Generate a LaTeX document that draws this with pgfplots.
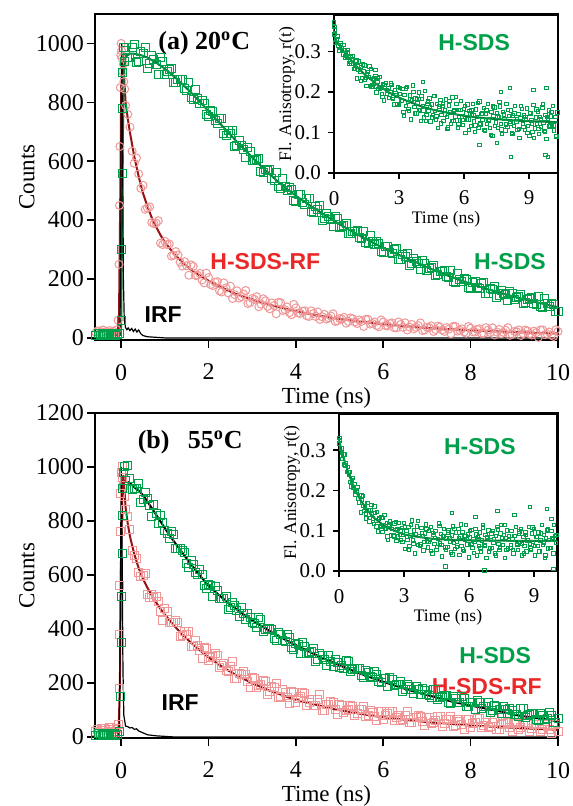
\documentclass[border=0pt]{standalone}
\usepackage{pgfplots}
\pgfplotsset{compat=1.18}
\usepackage{fontspec}
\setmainfont{Liberation Serif}
\newfontfamily\lsans{Liberation Sans}

\definecolor{sqgreen}{RGB}{0,160,75}
\definecolor{fitgreen}{RGB}{0,125,55}
\definecolor{pinkc}{RGB}{240,150,150}
\definecolor{fitred}{RGB}{150,20,20}
\definecolor{labred}{RGB}{235,40,40}

\pgfplotsset{
  base/.style={scale only axis, anchor=south west,
    axis line style={line width=1pt},
    every tick/.style={black, line width=0.8pt},
    tick align=outside, tick pos=left,
    /pgf/number format/assume math mode=true,
    /pgf/number format/1000 sep={}},
  mainax/.style={base, major tick length=4pt,
    tick label style={font=\fontsize{12}{13}\selectfont},
    label style={font=\fontsize{11.5}{13}\selectfont},
    xlabel style={at={(axis description cs:0.5,0)}, anchor=center, yshift=-29pt},
    ylabel style={at={(axis description cs:-0.147,0.5)}, anchor=center},
    xticklabel shift=4.5pt, yticklabel shift=-2pt,
    xmin=-0.6, xmax=10, xtick={0,2,...,10},
    xlabel={Time (ns)}, ylabel={Counts}},
  inax/.style={base, major tick length=3pt,
    tick label style={font=\fontsize{10.5}{12}\selectfont},
    label style={font=\fontsize{8.8}{10}\selectfont},
    xlabel style={at={(axis description cs:0.5,0)}, anchor=center, yshift=-23pt},
    xticklabel shift=2.5pt,
    xmin=0, ymin=0, ymax=0.39, xtick={0,3,6,9}, ytick={0,0.1,0.2,0.3},
    yticklabel style={/pgf/number format/fixed, /pgf/number format/fixed zerofill,
      /pgf/number format/precision=1},
    xlabel={Time (ns)}, ylabel={Fl. Anisotropy, r(t)}},
  bigsq/.style={only marks, mark=square, mark size=2pt, line width=0.5pt},
  bigci/.style={only marks, mark=o, mark size=2pt, line width=0.5pt},
  smallsq/.style={only marks, mark=square, mark size=0.85pt, line width=0.35pt, draw=sqgreen},
}
\newcommand{\sanslab}{\lsans\bfseries\fontsize{11.5}{13}\selectfont}

\begin{document}
\begin{tikzpicture}
\useasboundingbox (0,0) rectangle (286pt,403pt);

% ---------------- (a) 20 C ----------------
\begin{axis}[mainax, at={(47.5pt,233pt)}, width=231.5pt, height=163pt,
  ymin=-7, ymax=1100, ytick={0,200,...,1000}]
% H-SDS-RF, circles
\addplot[bigci, draw=pinkc] coordinates {
(-0.58,18)(-0.54,24)(-0.5,15)(-0.46,21)(-0.42,27)(-0.38,17)(-0.34,22)(-0.3,14)(-0.26,25)(-0.22,19)
(-0.18,23)(-0.14,16)(-0.1,28)(-0.07,60)(-0.05,250)(-0.04,450)(-0.03,650)(-0.02,850)(-0.01,960)
(0.0,1000)(0.01,975)(0.02,950)(0.03,905)(0.05,930)(0.06,870)(0.08,845)
(0.1,789)(0.2,716)(0.3,593)(0.4,557)(0.5,518)(0.6,441)(0.7,392)(0.8,390)(0.9,322)(1.0,328)
(1.1,319)(1.2,281)(1.3,281)(1.4,244)(1.5,245)(1.6,248)(1.7,212)(1.8,219)(1.9,187)(2.0,205)
(2.1,178)(2.2,191)(2.3,156)(2.4,170)(2.5,176)(2.6,147)(2.7,135)(2.8,149)(2.9,117)(3.0,134)
(3.1,140)(3.2,115)(3.3,126)(3.4,99)(3.5,110)(3.6,121)(3.7,93)(3.8,105)(3.9,79)(4.0,102)
(4.1,83)(4.2,92)(4.3,73)(4.4,83)(4.5,88)(4.6,72)(4.7,64)(4.8,74)(4.9,56)(5.0,66)
(5.1,70)(5.2,56)(5.3,65)(5.4,49)(5.5,56)(5.6,63)(5.7,47)(5.8,54)(5.9,38)(6.0,54)
(6.1,41)(6.2,51)(6.3,34)(6.4,46)(6.5,51)(6.6,37)(6.7,31)(6.8,42)(6.9,25)(7.0,36)
(7.1,41)(7.2,28)(7.3,37)(7.4,22)(7.5,30)(7.6,39)(7.7,23)(7.8,31)(7.9,16)(8.0,33)
(8.1,20)(8.2,31)(8.3,15)(8.4,27)(8.5,34)(8.6,20)(8.7,14)(8.8,26)(8.9,9)(9.0,22)
(9.1,27)(9.2,15)(9.3,24)(9.4,10)(9.5,18)(9.6,27)(9.7,11)(9.8,20)(9.9,5)(10.0,22)
(0.15,759)(0.25,634)(0.35,611)(0.45,508)(0.55,437)(0.65,445)(0.75,388)(0.85,398)(0.95,317)(1.05,317)
(1.15,278)(1.25,293)(1.35,257)(1.45,259)(1.55,213)(1.65,243)(1.75,213)(1.85,197)(1.95,220)(2.05,181)
(2.15,189)(2.25,160)(2.35,187)(2.45,153)(2.55,134)(2.65,160)(2.75,140)(2.85,161)(2.95,120)(3.05,131)
(3.15,106)(3.25,133)(3.35,107)(3.45,119)(3.55,82)(3.65,120)(3.75,96)(3.85,86)(3.95,114)(4.05,85)
(4.15,91)(4.25,75)(4.35,92)(4.45,73)(4.55,63)(4.65,80)(4.75,68)(4.85,82)(4.95,58)(5.05,64)
(5.15,50)(5.25,68)(5.35,54)(5.45,61)(5.55,39)(5.65,63)(5.75,49)(5.85,42)(5.95,61)(6.05,42)
(6.15,49)(6.25,35)(6.35,54)(6.45,36)(6.55,27)(6.65,46)(6.75,36)(6.85,51)(6.95,27)(7.05,35)
(7.15,22)(7.25,40)(7.35,27)(7.45,35)(7.55,14)(7.65,39)(7.75,26)(7.85,20)(7.95,39)(8.05,21)
(8.15,29)(8.25,15)(8.35,35)(8.45,18)(8.55,10)(8.65,29)(8.75,19)(8.85,35)(8.95,12)(9.05,21)
(9.15,8)(9.25,27)(9.35,14)(9.45,23)(9.55,2)(9.65,27)(9.75,14)(9.85,9)(9.95,28)
};
% H-SDS, squares
\addplot[bigsq, draw=sqgreen] coordinates {
(-0.58,9)(-0.53,14)(-0.48,7)(-0.43,12)(-0.38,16)(-0.33,8)(-0.28,13)(-0.23,10)(-0.18,15)(-0.13,9)
(-0.08,12)(-0.03,14)(0.0,60)(0.01,300)(0.02,560)(0.03,780)(0.04,900)(0.05,985)(0.07,940)
(0.1,976)(0.2,951)(0.3,998)(0.4,937)(0.5,966)(0.6,916)(0.7,960)(0.8,930)(0.9,953)(1.0,896)
(1.1,910)(1.2,869)(1.3,878)(1.4,878)(1.5,841)(1.6,818)(1.7,842)(1.8,797)(1.9,796)(2.0,751)
(2.1,768)(2.2,729)(2.3,744)(2.4,689)(2.5,695)(2.6,650)(2.7,669)(2.8,640)(2.9,647)(3.0,601)
(3.1,606)(3.2,564)(3.3,572)(3.4,572)(3.5,535)(3.6,514)(3.7,540)(3.8,500)(3.9,504)(4.0,464)
(4.1,486)(4.2,453)(4.3,474)(4.4,425)(4.5,437)(4.6,399)(4.7,424)(4.8,401)(4.9,414)(5.0,374)
(5.1,383)(5.2,353)(5.3,362)(5.4,365)(5.5,338)(5.6,324)(5.7,347)(5.8,317)(5.9,321)(6.0,291)
(6.1,310)(6.2,285)(6.3,303)(6.4,265)(6.5,276)(6.6,247)(6.7,269)(6.8,252)(6.9,263)(7.0,230)
(7.1,240)(7.2,212)(7.3,224)(7.4,229)(7.5,204)(7.6,193)(7.7,218)(7.8,190)(7.9,197)(8.0,169)
(8.1,190)(8.2,167)(8.3,187)(8.4,151)(8.5,164)(8.6,137)(8.7,161)(8.8,146)(8.9,159)(9.0,130)
(9.1,142)(9.2,116)(9.3,130)(9.4,138)(9.5,115)(9.6,106)(9.7,133)(9.8,107)(9.9,115)(10.0,89)
(0.15,951)(0.25,987)(0.35,936)(0.45,972)(0.55,987)(0.65,932)(0.75,944)(0.85,896)(0.95,940)(1.05,906)
(1.15,914)(1.25,869)(1.35,876)(1.45,847)(1.55,866)(1.65,810)(1.75,814)(1.85,805)(1.95,757)(2.05,771)
(2.15,740)(2.25,745)(2.35,695)(2.45,706)(2.55,703)(2.65,655)(2.75,654)(2.85,613)(2.95,634)(3.05,604)
(3.15,609)(3.25,563)(3.35,570)(3.45,541)(3.55,561)(3.65,507)(3.75,515)(3.85,511)(3.95,468)(4.05,487)
(4.15,461)(4.25,472)(4.35,428)(4.45,445)(4.55,449)(4.65,407)(4.75,412)(4.85,377)(4.95,404)(5.05,380)
(5.15,387)(5.25,354)(5.35,362)(5.45,342)(5.55,360)(5.65,319)(5.75,328)(5.85,326)(5.95,293)(6.05,310)
(6.15,291)(6.25,301)(6.35,267)(6.45,282)(6.55,286)(6.65,254)(6.75,259)(6.85,233)(6.95,254)(7.05,235)
(7.15,245)(7.25,214)(7.35,225)(7.45,207)(7.55,228)(7.65,189)(7.75,200)(7.85,201)(7.95,170)(8.05,189)
(8.15,172)(8.25,184)(8.35,152)(8.45,169)(8.55,175)(8.65,145)(8.75,152)(8.85,128)(8.95,152)(9.05,136)
(9.15,148)(9.25,119)(9.35,133)(9.45,117)(9.55,140)(9.65,103)(9.75,116)(9.85,118)(9.95,89)
};
% fits
\addplot[fitred, line width=1pt] coordinates {
(-0.6,18)(-0.08,18)(-0.05,80)(-0.02,500)(0.0,850)(0.03,930)(0.06,900)(0.1,801)(0.15,745)(0.2,698)
(0.3,615)(0.4,548)(0.5,491)(0.6,447)(0.7,408)(0.8,377)(0.9,349)(1.0,325)(1.2,287)(1.4,257)
(1.6,232)(1.8,212)(2.0,194)(2.2,179)(2.4,164)(2.6,151)(2.8,140)(3.0,131)(3.2,121)(3.4,112)
(3.6,105)(3.8,98)(4.0,91)(4.3,82)(4.6,74)(5.0,64)(5.5,55)(6.0,47)(6.5,40)(7.0,34)
(7.5,30)(8.0,26)(8.5,23)(9.0,20)(9.5,17)(10,15)
};
\addplot[fitgreen, line width=1pt] coordinates {
(-0.6,10)(-0.02,10)(0.0,40)(0.03,600)(0.06,900)(0.1,955)(0.2,965)(0.3,965)(0.4,962)(0.5,958)
(0.6,952)(0.8,935)(1.0,914)(1.2,889)(1.4,862)(1.6,833)(1.8,802)(2.0,770)(2.2,738)(2.4,706)
(2.6,674)(2.8,643)(3.0,613)(3.2,584)(3.4,556)(3.6,529)(3.8,505)(4.0,483)(4.2,462)(4.4,442)
(4.6,423)(4.8,404)(5.0,386)(5.2,369)(5.4,352)(5.6,336)(5.8,321)(6.0,306)(6.2,292)(6.4,279)
(6.6,266)(6.8,254)(7.0,240)(7.2,228)(7.4,216)(7.6,205)(7.8,194)(8.0,184)(8.2,174)(8.4,165)
(8.6,156)(8.8,148)(9.0,140)(9.2,132)(9.4,125)(9.6,118)(9.8,111)(10,104)
};
% IRF
\addplot[black, line width=0.6pt] coordinates {
(-0.6,0)(-0.05,0)(-0.03,20)(-0.01,300)(0.0,800)(0.01,1000)(0.03,700)(0.05,200)(0.07,60)(0.1,35)
(0.13,28)(0.16,34)(0.2,25)(0.24,32)(0.28,22)(0.32,30)(0.36,20)(0.4,27)(0.45,14)(0.5,8)
(0.6,4)(0.8,2)(1.0,0)(10,0)
};
\node[font=\bfseries\fontsize{13}{15}\selectfont] at (axis cs:1.9,1000) {(a) 20\textsuperscript{o}C};
\node[font=\sanslab, text=labred] at (axis cs:3.3,258) {H-SDS-RF};
\node[font=\sanslab, text=sqgreen] at (axis cs:8.9,258) {H-SDS};
\node[font=\sanslab] at (axis cs:0.96,78) {IRF};
\end{axis}

% inset (a)
\begin{axis}[inax, at={(167pt,316.5pt)}, width=112pt, height=79pt, xmax=10.33,
  ylabel style={at={(axis description cs:-0.21,0.5)}, anchor=center}]
\addplot[smallsq] coordinates {
(0.0,0.372)(0.02,0.360)(0.04,0.355)
(0.00,0.341)(0.05,0.322)(0.10,0.330)(0.15,0.337)(0.20,0.314)(0.25,0.301)(0.30,0.320)(0.35,0.309)(0.40,0.293)(0.45,0.317)
(0.50,0.289)(0.55,0.297)(0.60,0.288)(0.65,0.298)(0.70,0.271)(0.75,0.286)(0.80,0.271)(0.85,0.289)(0.90,0.270)(0.95,0.258)
(1.00,0.276)(1.05,0.234)(1.10,0.265)(1.15,0.276)(1.20,0.249)(1.25,0.262)(1.30,0.235)(1.35,0.251)(1.40,0.266)(1.45,0.235)
(1.50,0.215)(1.55,0.250)(1.60,0.237)(1.65,0.215)(1.70,0.257)(1.75,0.218)(1.80,0.232)(1.85,0.221)(1.90,0.239)(1.95,0.199)
(2.00,0.226)(2.05,0.207)(2.10,0.237)(2.15,0.211)(2.20,0.196)(2.25,0.220)(2.30,0.179)(2.35,0.210)(2.40,0.223)(2.45,0.196)
(2.50,0.210)(2.55,0.185)(2.60,0.201)(2.65,0.218)(2.70,0.187)(2.75,0.169)(2.80,0.205)(2.85,0.192)(2.90,0.171)(2.95,0.213)
(3.00,0.169)(3.05,0.195)(3.10,0.179)(3.15,0.208)(3.20,0.151)(3.25,0.193)(3.30,0.166)(3.35,0.213)(3.40,0.175)(3.45,0.153)
(3.50,0.192)(3.55,0.132)(3.60,0.180)(3.65,0.201)(3.70,0.163)(3.75,0.184)(3.80,0.147)(3.85,0.174)(3.90,0.199)(3.95,0.155)
(4.00,0.129)(4.05,0.183)(4.10,0.165)(4.15,0.137)(4.20,0.202)(4.25,0.144)(4.30,0.170)(4.35,0.154)(4.40,0.184)(4.45,0.127)
(4.50,0.169)(4.55,0.143)(4.60,0.191)(4.65,0.153)(4.70,0.132)(4.75,0.171)(4.80,0.111)(4.85,0.160)(4.90,0.181)(4.95,0.144)
(5.00,0.165)(5.05,0.129)(5.10,0.156)(5.15,0.182)(5.20,0.138)(5.25,0.113)(5.30,0.167)(5.35,0.150)(5.40,0.121)(5.45,0.187)
(5.50,0.129)(5.55,0.156)(5.60,0.140)(5.65,0.170)(5.70,0.113)(5.75,0.156)(5.80,0.130)(5.85,0.178)(5.90,0.140)(5.95,0.119)
(6.00,0.158)(6.05,0.099)(6.10,0.147)(6.15,0.169)(6.20,0.132)(6.25,0.154)(6.30,0.117)(6.35,0.145)(6.40,0.171)(6.45,0.127)
(6.50,0.102)(6.55,0.157)(6.60,0.139)(6.65,0.111)(6.70,0.177)(6.75,0.120)(6.80,0.146)(6.85,0.131)(6.90,0.161)(6.95,0.104)
(7.00,0.147)(7.05,0.122)(7.10,0.170)(7.15,0.132)(7.20,0.111)(7.25,0.151)(7.30,0.092)(7.35,0.141)(7.40,0.162)(7.45,0.125)
(7.50,0.147)(7.55,0.111)(7.60,0.139)(7.65,0.164)(7.70,0.121)(7.75,0.096)(7.80,0.151)(7.85,0.134)(7.90,0.105)(7.95,0.171)
(8.00,0.114)(8.05,0.141)(8.10,0.126)(8.15,0.155)(8.20,0.099)(8.25,0.142)(8.30,0.117)(8.35,0.165)(8.40,0.127)(8.45,0.106)
(8.50,0.146)(8.55,0.087)(8.60,0.136)(8.65,0.158)(8.70,0.121)(8.75,0.142)(8.80,0.106)(8.85,0.134)(8.90,0.160)(8.95,0.117)
(9.00,0.092)(9.05,0.147)(9.10,0.130)(9.15,0.102)(9.20,0.168)(9.25,0.110)(9.30,0.137)(9.35,0.122)(9.40,0.152)(9.45,0.096)
(9.50,0.139)(9.55,0.114)(9.60,0.162)(9.65,0.125)(9.70,0.104)(9.75,0.143)(9.80,0.084)(9.85,0.133)(9.90,0.155)(9.95,0.118)
(10.00,0.140)(10.05,0.120)(10.10,0.165)(10.15,0.105)(10.20,0.138)(10.25,0.090)(10.30,0.150)
(0.025,0.343)(0.125,0.321)(0.225,0.303)(0.325,0.317)(0.425,0.304)(0.525,0.285)(0.625,0.304)(0.725,0.276)(0.825,0.280)(0.925,0.257)
(1.025,0.278)(1.125,0.256)(1.225,0.228)(1.325,0.268)(1.425,0.231)(1.525,0.243)(1.625,0.263)(1.725,0.214)(1.825,0.234)(1.925,0.214)
(2.025,0.234)(2.125,0.208)(2.225,0.188)(2.325,0.218)(2.425,0.205)(2.525,0.186)(2.625,0.221)(2.725,0.183)(2.825,0.197)(2.925,0.169)
(3.025,0.210)(3.125,0.178)(3.225,0.141)(3.325,0.209)(3.425,0.159)(3.525,0.182)(3.625,0.216)(3.725,0.147)(3.825,0.182)(3.925,0.156)
(4.025,0.190)(4.125,0.155)(4.225,0.128)(4.325,0.177)(4.425,0.162)(4.525,0.137)(4.625,0.191)(4.725,0.140)(4.825,0.164)(4.925,0.123)
(5.025,0.171)(5.125,0.145)(5.225,0.109)(5.325,0.178)(5.425,0.129)(5.525,0.153)(5.625,0.188)(5.725,0.120)(5.825,0.156)(5.925,0.131)
(6.025,0.166)(6.125,0.132)(6.225,0.106)(6.325,0.156)(6.425,0.143)(6.525,0.118)(6.625,0.173)(6.725,0.123)(6.825,0.147)(6.925,0.107)
(7.025,0.155)(7.125,0.130)(7.225,0.094)(7.325,0.164)(7.425,0.116)(7.525,0.140)(7.625,0.175)(7.725,0.108)(7.825,0.145)(7.925,0.120)
(8.025,0.156)(8.125,0.123)(8.225,0.096)(8.325,0.147)(8.425,0.134)(8.525,0.109)(8.625,0.165)(8.725,0.114)(8.825,0.139)(8.925,0.099)
(9.025,0.148)(9.125,0.123)(9.225,0.087)(9.325,0.157)(9.425,0.109)(9.525,0.134)(9.625,0.169)(9.725,0.102)(9.825,0.139)(9.925,0.115)
(10.025,0.151)(10.125,0.118)(10.225,0.092)
(8.1,0.210)(9.2,0.205)(9.8,0.210)(7.7,0.200)(9.85,0.040)(9.75,0.045)(8.15,0.040)(6.7,0.070)(7.5,0.075)(4.1,0.225)(1.9,0.255)
};
\addplot[fitgreen, line width=1pt] coordinates {
(0,0.335)(0.5,0.296)(1,0.265)(1.5,0.239)(2,0.218)(2.5,0.200)(3,0.186)(3.5,0.175)(4,0.165)(4.5,0.157)
(5,0.151)(5.5,0.146)(6,0.141)(6.5,0.138)(7,0.135)(7.5,0.133)(8,0.131)(8.5,0.129)(9,0.128)(9.5,0.127)
(10,0.126)(10.33,0.125)
};
\node[font=\sanslab, text=sqgreen] at (axis cs:6.46,0.322) {H-SDS};
\end{axis}

% ---------------- (b) 55 C ----------------
\begin{axis}[mainax, at={(47.5pt,34pt)}, width=231.5pt, height=162.5pt,
  ymin=-4, ymax=1200, ytick={0,200,...,1200}]
% H-SDS-RF, squares
\addplot[bigsq, draw=pinkc] coordinates {
(-0.58,20)(-0.54,28)(-0.5,16)(-0.46,33)(-0.42,22)(-0.38,30)(-0.34,18)(-0.3,26)(-0.26,35)(-0.22,21)
(-0.18,29)(-0.14,17)(-0.1,31)(-0.07,45)(-0.05,180)(-0.04,380)(-0.03,560)(-0.02,760)(-0.01,900)
(0.0,980)(0.02,1000)(0.04,960)(0.06,930)(0.08,890)
(0.1,844)(0.2,770)(0.3,671)(0.4,609)(0.5,598)(0.6,526)(0.7,528)(0.8,519)(0.9,465)(1.0,474)
(1.1,424)(1.2,423)(1.3,425)(1.4,375)(1.5,380)(1.6,336)(1.7,356)(1.8,319)(1.9,331)(2.0,283)
(2.1,299)(2.2,303)(2.3,264)(2.4,245)(2.5,261)(2.6,217)(2.7,235)(2.8,241)(2.9,207)(3.0,220)
(3.1,183)(3.2,194)(3.3,207)(3.4,167)(3.5,182)(3.6,147)(3.7,176)(3.8,146)(3.9,167)(4.0,126)
(4.1,149)(4.2,161)(4.3,128)(4.4,115)(4.5,137)(4.6,99)(4.7,121)(4.8,132)(4.9,102)(5.0,120)
(5.1,91)(5.2,102)(5.3,114)(5.4,87)(5.5,100)(5.6,75)(5.7,99)(5.8,77)(5.9,95)(6.0,66)
(6.1,85)(6.2,95)(6.3,71)(6.4,62)(6.5,80)(6.6,52)(6.7,71)(6.8,80)(6.9,58)(7.0,73)
(7.1,48)(7.2,61)(7.3,75)(7.4,49)(7.5,63)(7.6,39)(7.7,65)(7.8,45)(7.9,63)(8.0,35)
(8.1,55)(8.2,67)(8.3,43)(8.4,35)(8.5,54)(8.6,27)(8.7,47)(8.8,57)(8.9,36)(9.0,52)
(9.1,28)(9.2,41)(9.3,55)(9.4,30)(9.5,45)(9.6,21)(9.7,47)(9.8,27)(9.9,46)(10.0,19)
(0.15,816)(0.25,689)(0.35,662)(0.45,593)(0.55,607)(0.65,515)(0.75,517)(0.85,503)(0.95,432)(1.05,463)
(1.15,424)(1.25,433)(1.35,371)(1.45,389)(1.55,391)(1.65,336)(1.75,340)(1.85,292)(1.95,326)(2.05,294)
(2.15,309)(2.25,257)(2.35,273)(2.45,244)(2.55,278)(2.65,215)(2.75,232)(2.85,233)(2.95,184)(3.05,216)
(3.15,189)(3.25,210)(3.35,158)(3.45,186)(3.55,198)(3.65,151)(3.75,163)(3.85,124)(3.95,166)(4.05,141)
(4.15,163)(4.25,118)(4.35,140)(4.45,117)(4.55,157)(4.65,99)(4.75,121)(4.85,126)(4.95,82)(5.05,115)
(5.15,97)(5.25,115)(5.35,78)(5.45,103)(5.55,113)(5.65,79)(5.75,90)(5.85,61)(5.95,95)(6.05,78)
(6.15,96)(6.25,62)(6.35,81)(6.45,64)(6.55,96)(6.65,53)(6.75,71)(6.85,76)(6.95,43)(7.05,71)
(7.15,55)(7.25,75)(7.35,40)(7.45,65)(7.55,77)(7.65,44)(7.75,57)(7.85,29)(7.95,64)(8.05,48)
(8.15,67)(8.25,34)(8.35,54)(8.45,38)(8.55,70)(8.65,29)(8.75,48)(8.85,54)(8.95,21)(9.05,51)
(9.15,35)(9.25,55)(9.35,20)(9.45,47)(9.55,59)(9.65,26)(9.75,39)(9.85,12)(9.95,47)
};
% H-SDS, squares
\addplot[bigsq, draw=sqgreen] coordinates {
(-0.58,6)(-0.53,11)(-0.48,4)(-0.43,9)(-0.38,13)(-0.33,5)(-0.28,10)(-0.23,7)(-0.18,12)(-0.13,6)
(-0.08,9)(-0.04,20)(-0.02,150)(0.0,350)(0.01,520)(0.02,680)(0.03,820)(0.04,920)(0.06,980)(0.08,1000)
(0.1,950)(0.15,1005)(0.2,956)(0.3,920)(0.4,940)(0.5,878)(0.6,884)(0.7,818)(0.8,826)(0.9,822)(1.0,766)
(1.1,734)(1.2,750)(1.3,699)(1.4,692)(1.5,641)(1.6,653)(1.7,609)(1.8,620)(1.9,562)(2.0,565)
(2.1,521)(2.2,542)(2.3,514)(2.4,522)(2.5,478)(2.6,486)(2.7,446)(2.8,456)(2.9,459)(3.0,425)
(3.1,407)(3.2,436)(3.3,397)(3.4,402)(3.5,364)(3.6,388)(3.7,356)(3.8,378)(3.9,331)(4.0,345)
(4.1,308)(4.2,335)(4.3,313)(4.4,327)(4.5,288)(4.6,301)(4.7,266)(4.8,281)(4.9,288)(5.0,258)
(5.1,254)(5.2,279)(5.3,249)(5.4,255)(5.5,226)(5.6,246)(5.7,222)(5.8,241)(5.9,204)(6.0,216)
(6.1,188)(6.2,211)(6.3,194)(6.4,206)(6.5,176)(6.6,187)(6.7,161)(6.8,174)(6.9,181)(7.0,157)
(7.1,147)(7.2,174)(7.3,146)(7.4,154)(7.5,127)(7.6,149)(7.7,128)(7.8,149)(7.9,114)(8.0,128)
(8.1,102)(8.2,127)(8.3,112)(8.4,126)(8.5,98)(8.6,111)(8.7,86)(8.8,100)(8.9,107)(9.0,84)
(9.1,76)(9.2,104)(9.3,79)(9.4,88)(9.5,63)(9.6,87)(9.7,66)(9.8,89)(9.9,54)(10.0,70)
(0.25,916)(0.35,922)(0.45,870)(0.55,904)(0.65,857)(0.75,862)(0.85,789)(0.95,795)(1.05,753)
(1.15,762)(1.25,699)(1.35,697)(1.45,682)(1.55,628)(1.65,637)(1.75,602)(1.85,603)(1.95,550)(2.05,560)
(2.15,559)(2.25,513)(2.35,513)(2.45,473)(2.55,497)(2.65,470)(2.75,478)(2.85,434)(2.95,444)(3.05,419)
(3.15,442)(3.25,391)(3.35,401)(3.45,398)(3.55,357)(3.65,378)(3.75,354)(3.85,367)(3.95,325)(4.05,344)
(4.15,349)(4.25,309)(4.35,315)(4.45,281)(4.55,309)(4.65,287)(4.75,300)(4.85,261)(4.95,275)(5.05,263)
(5.15,283)(5.25,243)(5.35,253)(5.45,253)(5.55,221)(5.65,239)(5.75,221)(5.85,232)(5.95,200)(6.05,215)
(6.15,221)(6.25,190)(6.35,195)(6.45,170)(6.55,193)(6.65,177)(6.75,188)(6.85,159)(6.95,171)(7.05,155)
(7.15,177)(7.25,139)(7.35,151)(7.45,153)(7.55,123)(7.65,143)(7.75,128)(7.85,141)(7.95,111)(8.05,128)
(8.15,136)(8.25,107)(8.35,114)(8.45,91)(8.55,116)(8.65,101)(8.75,114)(8.85,85)(8.95,98)(9.05,83)
(9.15,106)(9.25,71)(9.35,84)(9.45,88)(9.55,60)(9.65,81)(9.75,67)(9.85,81)(9.95,52)
};
% fits
\addplot[fitred, line width=1pt] coordinates {
(-0.6,15)(-0.06,15)(-0.03,200)(0.0,700)(0.03,930)(0.05,970)(0.08,900)(0.1,850)(0.15,790)(0.2,743)
(0.3,677)(0.4,625)(0.5,585)(0.6,553)(0.7,524)(0.8,498)(0.9,474)(1.0,453)(1.2,414)(1.4,379)
(1.6,349)(1.8,321)(2.0,295)(2.2,272)(2.4,251)(2.6,232)(2.8,215)(3.0,199)(3.2,185)(3.4,171)
(3.6,160)(3.8,148)(4.0,138)(4.3,125)(4.6,114)(5.0,99)(5.4,88)(5.8,77)(6.2,69)(6.6,62)
(7.0,55)(7.5,49)(8.0,42)(8.5,38)(9.0,34)(9.5,30)(10,26)
};
\addplot[black, line width=1pt] coordinates {
(0.15,944)(0.2,940)(0.3,925)(0.4,912)(0.5,896)(0.6,872)(0.7,848)(0.8,823)(0.9,798)(1.0,773)
(1.2,726)(1.4,682)(1.6,639)(1.8,598)(2.0,560)(2.2,531)(2.4,503)(2.6,478)(2.8,454)(3.0,432)
(3.2,412)(3.4,392)(3.6,374)(3.8,356)(4.0,340)(4.2,324)(4.4,308)(4.6,293)(4.8,279)(5.0,265)
(5.2,252)(5.4,239)(5.6,227)(5.8,215)(6.0,204)(6.2,194)(6.4,183)(6.6,173)(6.8,164)(7.0,155)
(7.2,147)(7.4,138)(7.6,130)(7.8,123)(8.0,116)(8.2,110)(8.4,103)(8.6,97)(8.8,90)(9.0,82)
(9.2,77)(9.4,72)(9.6,68)(9.8,63)(10,58)
};
% IRF
\addplot[black, line width=0.6pt] coordinates {
(-0.6,0)(-0.06,0)(-0.04,30)(-0.02,500)(0.0,1000)(0.02,700)(0.04,250)(0.06,80)(0.1,40)(0.15,38)
(0.2,33)(0.25,35)(0.3,28)(0.35,30)(0.4,22)(0.5,15)(0.6,8)(0.8,4)(1.0,2)(1.2,0)(10,0)
};
\node[font=\bfseries\fontsize{13}{15}\selectfont] at (axis cs:1.58,1093) {(b)\hspace{0.7em}55\textsuperscript{o}C};
\node[font=\sanslab, text=sqgreen, anchor=east] at (axis cs:9.54,300) {H-SDS};
\node[font=\sanslab, text=labred, anchor=east] at (axis cs:9.79,185) {H-SDS-RF};
\node[font=\sanslab] at (axis cs:1.35,126) {IRF};
\end{axis}

% inset (b)
\begin{axis}[inax, at={(169.5pt,117.5pt)}, width=109pt, height=78.5pt, xmax=10.06,
  ylabel style={at={(axis description cs:-0.216,0.5)}, anchor=center}]
\addplot[smallsq] coordinates {
(0.00,0.317)(0.05,0.325)(0.10,0.305)(0.15,0.279)(0.20,0.290)(0.25,0.290)(0.30,0.262)(0.35,0.247)(0.40,0.258)(0.45,0.239)
(0.50,0.247)(0.55,0.210)(0.60,0.225)(0.65,0.208)(0.70,0.217)(0.75,0.190)(0.80,0.197)(0.85,0.209)(0.90,0.180)(0.95,0.188)
(1.00,0.146)(1.05,0.177)(1.10,0.186)(1.15,0.149)(1.20,0.161)(1.25,0.143)(1.30,0.170)(1.35,0.151)(1.40,0.123)(1.45,0.151)
(1.50,0.164)(1.55,0.131)(1.60,0.117)(1.65,0.145)(1.70,0.126)(1.75,0.147)(1.80,0.098)(1.85,0.129)(1.90,0.110)(1.95,0.133)
(2.00,0.097)(2.05,0.115)(2.10,0.140)(2.15,0.104)(2.20,0.120)(2.25,0.077)(2.30,0.112)(2.35,0.123)(2.40,0.089)(2.45,0.104)
(2.50,0.089)(2.55,0.118)(2.60,0.102)(2.65,0.075)(2.70,0.105)(2.75,0.120)(2.80,0.090)(2.85,0.078)(2.90,0.107)(2.95,0.090)
(3.00,0.120)(3.05,0.055)(3.10,0.100)(3.15,0.077)(3.20,0.110)(3.25,0.062)(3.30,0.089)(3.35,0.126)(3.40,0.076)(3.45,0.101)
(3.50,0.044)(3.55,0.093)(3.60,0.111)(3.65,0.065)(3.70,0.087)(3.75,0.066)(3.80,0.107)(3.85,0.087)(3.90,0.051)(3.95,0.094)
(4.00,0.116)(4.05,0.074)(4.10,0.059)(4.15,0.100)(4.20,0.078)(4.25,0.109)(4.30,0.044)(4.35,0.090)(4.40,0.067)(4.45,0.100)
(4.50,0.053)(4.55,0.080)(4.60,0.118)(4.65,0.069)(4.70,0.093)(4.75,0.036)(4.80,0.086)(4.85,0.104)(4.90,0.059)(4.95,0.081)
(5.00,0.060)(5.05,0.101)(5.10,0.081)(5.15,0.046)(5.20,0.089)(5.25,0.111)(5.30,0.070)(5.35,0.055)(5.40,0.096)(5.45,0.074)
(5.50,0.105)(5.55,0.040)(5.60,0.086)(5.65,0.063)(5.70,0.097)(5.75,0.050)(5.80,0.077)(5.85,0.115)(5.90,0.066)(5.95,0.091)
(6.00,0.034)(6.05,0.084)(6.10,0.102)(6.15,0.057)(6.20,0.079)(6.25,0.072)(6.30,0.104)(6.35,0.039)(6.40,0.085)(6.45,0.062)
(6.50,0.096)(6.55,0.049)(6.60,0.076)(6.65,0.114)(6.70,0.065)(6.75,0.090)(6.80,0.033)(6.85,0.083)(6.90,0.101)(6.95,0.056)
(7.00,0.078)(7.05,0.058)(7.10,0.099)(7.15,0.079)(7.20,0.044)(7.25,0.087)(7.30,0.109)(7.35,0.068)(7.40,0.053)(7.45,0.094)
(7.50,0.114)(7.55,0.065)(7.60,0.090)(7.65,0.033)(7.70,0.083)(7.75,0.101)(7.80,0.056)(7.85,0.078)(7.90,0.058)(7.95,0.099)
(8.00,0.079)(8.05,0.044)(8.10,0.087)(8.15,0.109)(8.20,0.068)(8.25,0.053)(8.30,0.094)(8.35,0.072)(8.40,0.104)(8.45,0.039)
(8.50,0.085)(8.55,0.062)(8.60,0.096)(8.65,0.049)(8.70,0.076)(8.75,0.109)(8.80,0.068)(8.85,0.053)(8.90,0.094)(8.95,0.072)
(9.00,0.104)(9.05,0.039)(9.10,0.085)(9.15,0.062)(9.20,0.096)(9.25,0.049)(9.30,0.076)(9.35,0.114)(9.40,0.065)(9.45,0.090)
(9.50,0.033)(9.55,0.083)(9.60,0.101)(9.65,0.056)(9.70,0.078)(9.75,0.058)(9.80,0.099)(9.85,0.079)(9.90,0.044)(9.95,0.087)
(10.00,0.070)(10.03,0.090)
(0.025,0.330)(0.125,0.294)(0.225,0.265)(0.325,0.268)(0.425,0.247)(0.525,0.222)(0.625,0.232)(0.725,0.199)(0.825,0.199)(0.925,0.171)
(1.025,0.188)(1.125,0.162)(1.225,0.131)(1.325,0.170)(1.425,0.132)(1.525,0.143)(1.625,0.161)(1.725,0.111)(1.825,0.132)(1.925,0.112)
(2.025,0.132)(2.125,0.105)(2.225,0.086)(2.325,0.116)(2.425,0.105)(2.525,0.086)(2.625,0.122)(2.725,0.086)(2.825,0.101)(2.925,0.073)
(3.025,0.110)(3.125,0.086)(3.225,0.053)(3.325,0.115)(3.425,0.069)(3.525,0.093)(3.625,0.125)(3.725,0.062)(3.825,0.095)(3.925,0.072)
(4.025,0.105)(4.125,0.073)(4.225,0.050)(4.325,0.095)(4.425,0.083)(4.525,0.060)(4.625,0.112)(4.725,0.065)(4.825,0.088)(4.925,0.052)
(5.025,0.096)(5.125,0.073)(5.225,0.041)(5.325,0.105)(5.425,0.060)(5.525,0.083)(5.625,0.116)(5.725,0.054)(5.825,0.088)(5.925,0.066)
(6.025,0.099)(6.125,0.068)(6.225,0.045)(6.325,0.091)(6.425,0.079)(6.525,0.056)(6.625,0.108)(6.725,0.062)(6.825,0.085)(6.925,0.049)
(7.025,0.094)(7.125,0.071)(7.225,0.039)(7.325,0.103)(7.425,0.058)(7.525,0.082)(7.625,0.115)(7.725,0.053)(7.825,0.087)(7.925,0.065)
(8.025,0.053)(8.125,0.087)(8.225,0.065)(8.325,0.098)(8.425,0.067)(8.525,0.044)(8.625,0.090)(8.725,0.078)(8.825,0.056)(8.925,0.108)
(9.025,0.062)(9.125,0.085)(9.225,0.049)(9.325,0.094)(9.425,0.071)(9.525,0.039)(9.625,0.103)(9.725,0.058)(9.825,0.082)(9.925,0.115)
(6.7,0.002)(9.9,0.005)(7.3,0.150)(8.8,0.160)(9.6,0.155)(5.2,0.145)(4.9,0.012)(9.8,0.130)(8.1,0.140)(6.3,0.135)
};
\addplot[fitgreen, line width=1pt] coordinates {
(0,0.325)(0.1,0.303)(0.2,0.284)(0.3,0.265)(0.4,0.249)(0.5,0.234)(0.6,0.220)(0.7,0.207)(0.8,0.196)(0.9,0.185)
(1.0,0.176)(1.2,0.159)(1.4,0.145)(1.6,0.133)(1.8,0.124)(2.0,0.116)(2.3,0.106)(2.6,0.099)(3.0,0.091)(3.5,0.086)
(4.0,0.082)(4.5,0.079)(5,0.078)(6,0.076)(7,0.0755)(8,0.075)(10.06,0.075)
};
\node[font=\sanslab, text=sqgreen] at (axis cs:6.5,0.31) {H-SDS};
\end{axis}
\end{tikzpicture}
\end{document}
